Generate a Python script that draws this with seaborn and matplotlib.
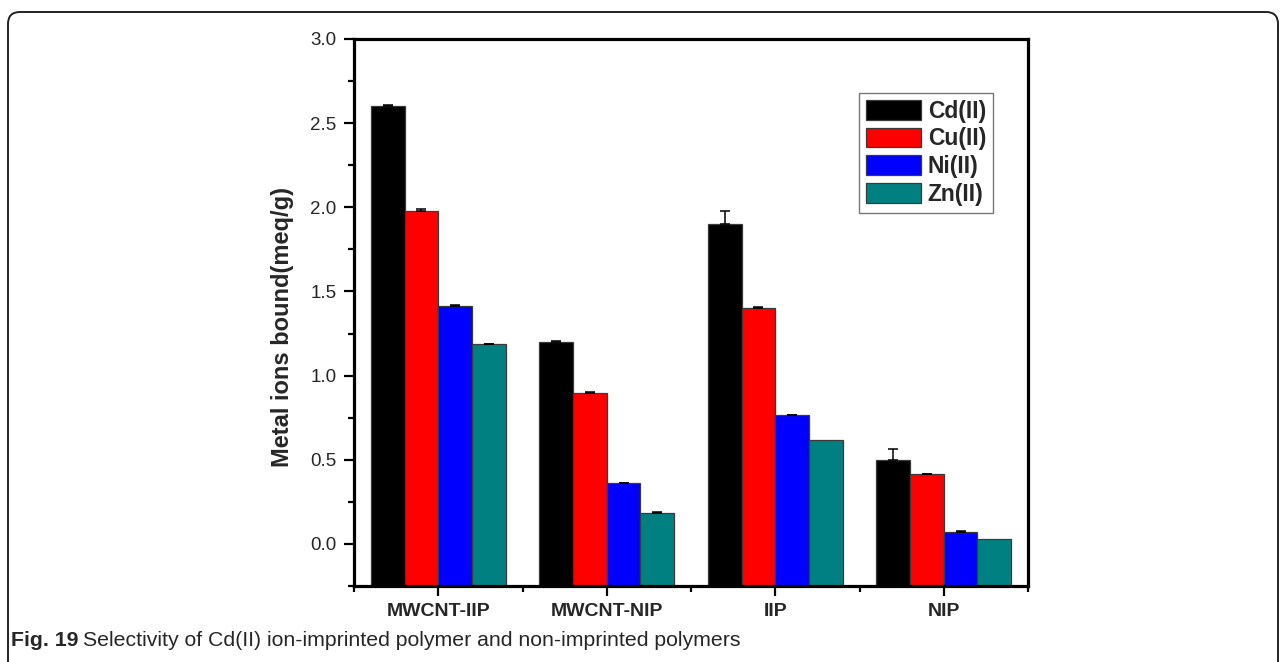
import numpy as np
import pandas as pd
import matplotlib
matplotlib.use("Agg")
import matplotlib.pyplot as plt
from matplotlib.patches import FancyBboxPatch
from matplotlib.transforms import IdentityTransform
from matplotlib.ticker import MultipleLocator, FixedLocator
import seaborn as sns

# Sorbents and metal ions
samples = ["MWCNT-IIP", "MWCNT-NIP", "IIP", "NIP"]
ions = ["Cd(II)", "Cu(II)", "Ni(II)", "Zn(II)"]

# Metal ions bound (meq/g), one list per ion across the four sorbents
cd_vals = [2.60, 1.20, 1.90, 0.50]
cu_vals = [1.98, 0.895, 1.40, 0.415]
ni_vals = [1.415, 0.36, 0.765, 0.07]
zn_vals = [1.185, 0.185, 0.62, 0.032]

# Upper error (standard deviation)
cd_err = [0.005, 0.005, 0.08, 0.065]
cu_err = [0.008, 0.005, 0.005, 0.003]
ni_err = [0.004, 0.004, 0.003, 0.004]
zn_err = [0.004, 0.003, 0.0, 0.0]

ion_colors = ["#000000", "#ff0000", "#0000ff", "#008080"]
y_min, y_max = -0.25, 3.0

values = [cd_vals, cu_vals, ni_vals, zn_vals]
errors = [cd_err, cu_err, ni_err, zn_err]
df = pd.DataFrame({
    "sample": [s for _ in ions for s in samples],
    "ion": [ion for ion in ions for _ in samples],
    "value": [v for series in values for v in series],
})

sns.set_style("ticks")
plt.rcParams["font.family"] = ["Liberation Sans", "DejaVu Sans"]

fig = plt.figure(figsize=(12.84, 6.62), dpi=100)
ax = fig.add_axes([354 / 1284, 1 - 586 / 662, 674 / 1284, 547 / 662])

sns.barplot(data=df, x="sample", y="value", hue="ion", order=samples,
            hue_order=ions, palette=ion_colors, width=0.8, errorbar=None,
            edgecolor="#3a3a3a", linewidth=0.9, saturation=1, ax=ax)

# Bars rise from the bottom of the value axis; add one-sided error bars
for container, series, errs in zip(ax.containers, values, errors):
    for bar, v, e in zip(container, series, errs):
        bar.set_y(y_min)
        bar.set_height(v - y_min)
        xc = bar.get_x() + bar.get_width() / 2
        if e > 0:
            ax.errorbar(xc, v, yerr=[[0], [e]], fmt="none", ecolor="black",
                        elinewidth=1.1, capsize=3.8, capthick=1.1, zorder=3)

ax.set_ylim(y_min, y_max)
ax.set_xlim(-0.5, 3.5)
ax.yaxis.set_major_locator(MultipleLocator(0.5))
ax.yaxis.set_minor_locator(FixedLocator(np.arange(-0.25, 3.0, 0.5)))
ax.xaxis.set_minor_locator(FixedLocator(np.arange(-0.5, 4.0, 1.0)))
ax.set_yticks(np.arange(0, 3.01, 0.5))
ax.set_yticklabels([f"{t:.1f}" for t in np.arange(0, 3.01, 0.5)], fontsize=13.5)
ax.set_xticks(range(len(samples)))
ax.set_xticklabels(samples, fontsize=14, fontweight="bold")

ax.tick_params(axis="both", which="major", direction="out", length=7.5,
               width=1.6, color="black")
ax.tick_params(axis="both", which="minor", direction="out", length=4,
               width=1.6, color="black")
ax.tick_params(axis="y", which="major", pad=5)
ax.tick_params(axis="x", which="major", pad=5)

for side in ["left", "right", "top", "bottom"]:
    ax.spines[side].set_visible(True)
    ax.spines[side].set_linewidth(2.3)
    ax.spines[side].set_color("black")

ax.set_xlabel("")
ax.set_ylabel("Metal ions bound(meq/g)", fontsize=17, fontweight="bold")
ax.yaxis.set_label_coords((294 - 354) / 674, (586 - 327) / 547)

handles, labels = ax.get_legend_handles_labels()
leg = ax.legend(handles, labels, loc="upper right",
                bbox_to_anchor=((993 - 354) / 674, (586 - 93) / 547),
                borderaxespad=0, frameon=True, fancybox=False,
                prop={"weight": "bold", "size": 16.5},
                handlelength=2.4, handleheight=0.95, handletextpad=0.3,
                labelspacing=0.2, borderpad=0.3)
leg.get_frame().set_edgecolor("#555555")
leg.get_frame().set_linewidth(1.0)

# Rounded page frame and caption
frame = FancyBboxPatch((8, -30), 1270, 662 - 12 + 30,
                       boxstyle="round,pad=0,rounding_size=12",
                       transform=IdentityTransform(), fill=False,
                       edgecolor="#222222", linewidth=1.4)
fig.patches.append(frame)

cap_font = ["Liberation Sans Narrow", "Liberation Sans", "DejaVu Sans"]
t1 = fig.text(11 / 1284, 1 - 640 / 662, "Fig. 19", fontsize=15.3,
              fontweight="bold", family=cap_font, va="center", ha="left")
fig.canvas.draw()
bb = t1.get_window_extent(renderer=fig.canvas.get_renderer())
fig.text((bb.x1 + 5) / 1284, 1 - 640 / 662,
         "Selectivity of Cd(II) ion-imprinted polymer and non-imprinted polymers",
         fontsize=15.3, family=cap_font, va="center", ha="left")

fig.savefig("out.png", dpi=100, facecolor="white")
